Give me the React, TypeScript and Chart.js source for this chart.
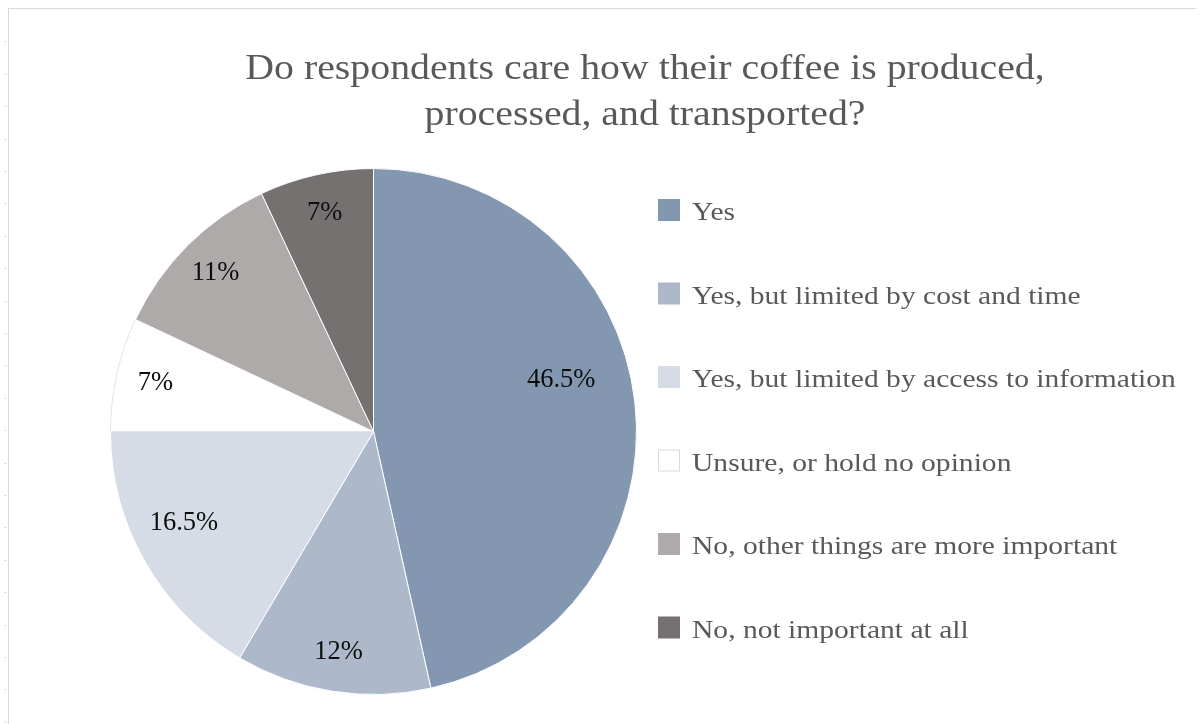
import React, { useEffect, useRef } from 'react';
import { Chart, registerables } from 'chart.js';

Chart.register(...registerables);

const TITLE_LINES = ['Do respondents care how their coffee is produced,', 'processed, and transported?'];
const CATEGORIES = [
  'Yes',
  'Yes, but limited by cost and time',
  'Yes, but limited by access to information',
  'Unsure, or hold no opinion',
  'No, other things are more important',
  'No, not important at all',
];
const PERCENTAGES = [46.5, 12, 16.5, 7, 11, 7];
const COLORS = ['#8497b0', '#adb9ca', '#d6dce5', '#ffffff', '#aeaaaa', '#767171'];
const BORDER_COLORS = ['#ffffff', '#ffffff', '#ffffff', '#e4e4e4', '#ffffff', '#ffffff'];

const SERIF = '"Liberation Serif", "Times New Roman", serif';
const TEXT_STRETCH = 1.137;

function stretchedText(ctx: CanvasRenderingContext2D, text: string, x: number, y: number, sx: number) {
  ctx.save();
  ctx.translate(x, y);
  ctx.scale(sx, 1);
  ctx.fillText(text, 0, 0);
  ctx.restore();
}

const overlayPlugin = {
  id: 'overlay',
  afterDatasetsDraw(chart: any) {
    const ctx = chart.ctx;
    const meta = chart.getDatasetMeta(0);
    const maxVal = Math.max(...PERCENTAGES);
    ctx.save();
    ctx.font = `26.5px ${SERIF}`;
    ctx.fillStyle = '#0d0d0d';
    ctx.textAlign = 'center';
    ctx.textBaseline = 'middle';
    meta.data.forEach((arc: any, i: number) => {
      const p = arc.getProps(['x', 'y', 'startAngle', 'endAngle', 'outerRadius'], true);
      let mid = (p.startAngle + p.endAngle) / 2;
      let frac = 0.85;
      if (PERCENTAGES[i] === maxVal && maxVal > 40) {
        frac = 0.74;
        mid -= (9 * Math.PI) / 180;
      } else if (PERCENTAGES[i] > 15) {
        frac = 0.8;
        mid += (4 * Math.PI) / 180;
      }
      ctx.fillText(
        `${PERCENTAGES[i]}%`,
        p.x + Math.cos(mid) * p.outerRadius * frac,
        p.y + Math.sin(mid) * p.outerRadius * frac
      );
    });
    ctx.restore();
  },
  afterDraw(chart: any) {
    const ctx = chart.ctx;
    const area = chart.chartArea;
    ctx.save();
    // title
    ctx.font = `35px ${SERIF}`;
    ctx.fillStyle = '#595959';
    ctx.textAlign = 'center';
    ctx.textBaseline = 'alphabetic';
    TITLE_LINES.forEach((line, i) => stretchedText(ctx, line, 636, 70 + i * 46, TEXT_STRETCH));
    // legend
    const boxX = area.right + 21;
    const top0 = 190;
    const step = 83.5;
    const box = 22;
    ctx.font = `26px ${SERIF}`;
    ctx.textAlign = 'left';
    CATEGORIES.forEach((label, i) => {
      const top = top0 + i * step;
      ctx.fillStyle = COLORS[i];
      ctx.fillRect(boxX, top, box, box);
      if (COLORS[i] === '#ffffff') {
        ctx.strokeStyle = '#d9d9d9';
        ctx.lineWidth = 1;
        ctx.strokeRect(boxX + 0.5, top + 0.5, box - 1, box - 1);
      }
      ctx.fillStyle = '#595959';
      stretchedText(ctx, label, boxX + box + 12, top + 21, TEXT_STRETCH);
    });
    ctx.restore();
  },
};

export default function App() {
  const canvasRef = useRef<HTMLCanvasElement | null>(null);

  useEffect(() => {
    if (!canvasRef.current) return;
    const chart = new Chart(canvasRef.current, {
      type: 'pie',
      data: {
        labels: CATEGORIES,
        datasets: [
          {
            data: PERCENTAGES,
            backgroundColor: COLORS,
            borderColor: BORDER_COLORS,
            borderWidth: 1,
          },
        ],
      },
      options: {
        responsive: false,
        animation: false,
        layout: { padding: { left: 101, right: 567, top: 159, bottom: 30 } },
        plugins: {
          legend: { display: false },
          title: { display: false },
          tooltip: { enabled: false },
        },
      },
      plugins: [overlayPlugin],
    });
    return () => chart.destroy();
  }, []);

  return (
    <div style={{ position: 'relative' }}>
      <div
        style={{
          position: 'fixed',
          left: 4,
          top: 10,
          width: 3,
          height: 714,
          background:
            'repeating-linear-gradient(to bottom, transparent 0px, transparent 31.4px, #e2e2e2 31.4px, #e2e2e2 32.4px)',
        }}
      />
      <div
        style={{
          width: 1195,
          height: 716,
          borderTop: '1px solid #d9d9d9',
          borderLeft: '1px solid #d9d9d9',
          background: '#ffffff',
        }}
      >
        <canvas ref={canvasRef} width={1195} height={716} style={{ display: 'block' }} />
      </div>
    </div>
  );
}
